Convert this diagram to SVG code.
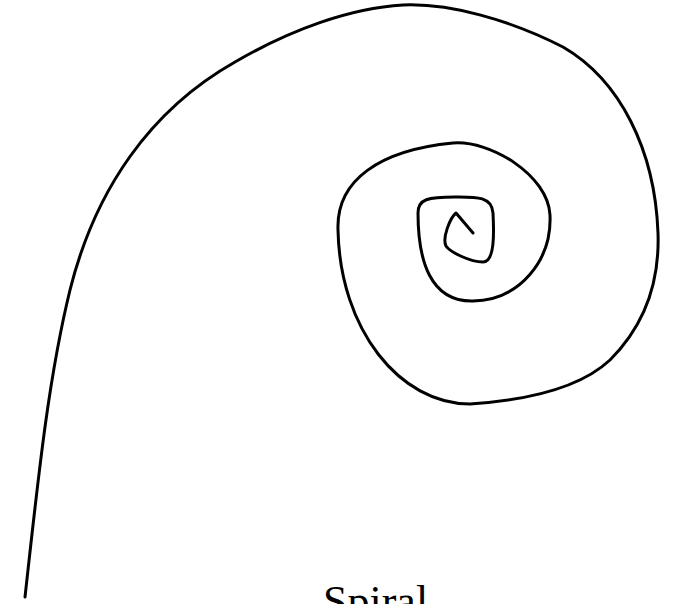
<svg xmlns="http://www.w3.org/2000/svg" width="674" height="604" viewBox="0 0 674 604">
<style>
.spiral{fill:none;stroke:#000;stroke-width:3;stroke-linecap:round;stroke-linejoin:round}
.label{font-family:"Liberation Serif","Times New Roman",serif;font-size:44px;fill:#000}
</style>
<rect width="674" height="604" fill="#fff"/>
<g id="spiral">
<path class="spiral" d="M25,597 C38,480 48,380 70,290 C95,190 150,110 235,62 C290,30 350,8 403,5 C450,3 510,20 563,47 C620,80 655,150 658,233 C660,290 640,330 610,360 C580,388 530,400 470,404 C400,404 340,330 338,230 C336,180 380,150 453,143 C490,140 548,175 550,215 C552,260 520,300 473,301 C430,302 418,260 418,213 C418,199 428,197 455,197 C475,197 492,196 493,213 C494,232 495,262 483,262 C470,262 450,252 446,246 C442,238 450,218 456,213 L473,233"/>
</g>
<text class="label" x="323" y="616">Spiral</text>
</svg>
